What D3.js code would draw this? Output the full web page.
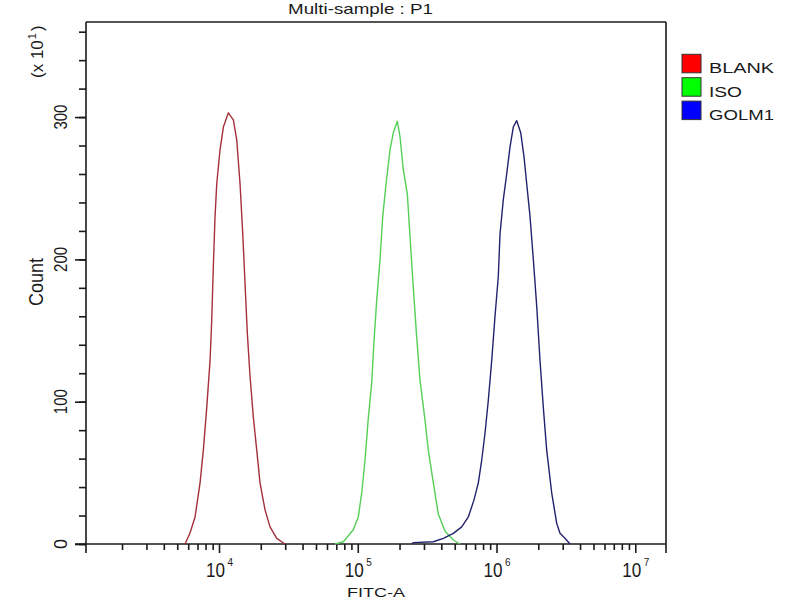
<!DOCTYPE html>
<html>
<head>
<meta charset="utf-8">
<script src="https://cdn.jsdelivr.net/npm/d3@7"></script>
<style>
  html, body { margin: 0; padding: 0; background: #fff; }
  svg { display: block; font-family: "Liberation Sans", Arial, sans-serif; }
</style>
</head>
<body>
<svg id="chart" width="800" height="600"></svg>
<script>
// ---- data ----
const seriesNames = ["BLANK", "ISO", "GOLM1"];

const blankX = [5690,6180,6720,7300,7710,8160,8620,8860,9100,9360,9630,10170,10750,11680,12690,13420,14180,14830,15400,16000,16730,17680,18700,19750,21460,23320,26060,29910];
const blankY = [0,7.7,19,43,66,96,129,157,195,230,253,277,293,303,298,284,253,218,183,148,118,89,66,43,24,12,4,0];

const isoX = [68570,78700,92900,100900,106800,112800,119200,126000,131000,136900,144700,151300,159800,170800,180400,192800,201700,213000,227600,238000,251400,266000,281000,305200,322400,350400,380600,425500,488400,545700];
const isoY = [0,1.6,10,19,36,59,89,113,143,171,200,230,253,277,289,297,286,263,246,216,180,145,115,87,66,43,21,9,2.8,0];

const golmX = [244800,251400,350400,413600,488400,561400,626200,688200,739200,782300,826300,872800,923400,975200,1030000,1060000,1119000,1184000,1251000,1321000,1398000,1494000,1578000,1651000,1744000,1842000,1949000,2058000,2174000,2299000,2498000,2715000,2868000,3116000,3385000];
const golmY = [0,1,1.6,4,7.5,12,19,31,43,59,78,101,129,160,188,218,242,260,279,293,297.5,289,272,253,230,200,167,129,96,66,36,14.5,7.5,4,0];

const xMajorTicks = [1e4, 1e5, 1e6, 1e7];
const xMajorExp = ["4", "5", "6", "7"];
const yMajorTicks = [0, 100, 200, 300];
const yMinorTicks = [0,20,40,60,80,100,120,140,160,180,200,220,240,260,280,300,320,340,360];
const xDomain = [1100, 16650000];
const yDomain = [0, 366.8];

const titleText = "Multi-sample : P1";
const xLabel = "FITC-A";
const yLabel = "Count";

// ---- styles ----
const lineColors = ["#a3303c", "#55cf55", "#22226f"];
const legendColors = ["#ff0000", "#00ff00", "#0000ff"];
const ink = "#1a1a1a";

const svg = d3.select("#chart");
const L = 86, R = 666, T = 22, B = 544;

const x = d3.scaleLog().domain(xDomain).range([L, R]);
const y = d3.scaleLinear().domain(yDomain).range([B, T]);

// minor x ticks: 2..9 x each decade inside domain
const xMinor = [];
[1e3, 1e4, 1e5, 1e6, 1e7].forEach(d => {
  for (let k = 2; k <= 9; k++) {
    const v = d * k;
    if (v > xDomain[0] && v < xDomain[1]) xMinor.push(v);
  }
});

// ---- axes ----
const gxMinor = svg.append("g").attr("transform", `translate(0,${B})`)
  .call(d3.axisBottom(x).tickValues(xMinor).tickSize(6).tickSizeOuter(0).tickFormat(""));
const gxMajor = svg.append("g").attr("transform", `translate(0,${B})`)
  .call(d3.axisBottom(x).tickValues(xMajorTicks).tickSize(9).tickSizeOuter(0).tickFormat(""));
const gyMinor = svg.append("g").attr("transform", `translate(${L},0)`)
  .call(d3.axisLeft(y).tickValues(yMinorTicks).tickSize(7).tickSizeOuter(0).tickFormat(""));
const gyMajor = svg.append("g").attr("transform", `translate(${L},0)`)
  .call(d3.axisLeft(y).tickValues(yMajorTicks).tickSize(11).tickSizeOuter(0).tickFormat(""));

[gxMinor, gxMajor, gyMinor, gyMajor].forEach(g => {
  g.select(".domain").remove();
  g.selectAll(".tick line").attr("stroke", ink).attr("stroke-width", 1.6);
});

// frame lines
const frame = svg.append("g").attr("stroke", ink).attr("stroke-width", 1.6).attr("fill", "none");
frame.append("line").attr("x1", L - 11).attr("x2", R).attr("y1", B).attr("y2", B);
frame.append("line").attr("x1", L).attr("x2", R).attr("y1", T).attr("y2", T);
frame.append("line").attr("x1", L).attr("x2", L).attr("y1", T).attr("y2", B + 9);
frame.append("line").attr("x1", R).attr("x2", R).attr("y1", T).attr("y2", B + 9);

// ---- curves ----
const lineGen = d3.line().x(d => x(d[0])).y(d => y(d[1]));
const allSeries = [
  d3.zip(blankX, blankY),
  d3.zip(isoX, isoY),
  d3.zip(golmX, golmY)
];
svg.append("g").selectAll("path").data(allSeries).join("path")
  .attr("d", lineGen)
  .attr("fill", "none")
  .attr("stroke", (d, i) => lineColors[i])
  .attr("stroke-width", 1.4)
  .attr("stroke-linejoin", "round");

// ---- x tick labels ----
const xl = svg.append("g").attr("fill", ink);
xMajorTicks.forEach((v, i) => {
  const px = x(v);
  xl.append("text").attr("x", px - 13).attr("y", 577)
    .attr("font-size", 20).attr("textLength", 19).attr("lengthAdjust", "spacingAndGlyphs")
    .text("10");
  xl.append("text").attr("x", px + 8.5).attr("y", 566)
    .attr("font-size", 10).text(xMajorExp[i]);
});

// x axis title
svg.append("text").attr("x", 347).attr("y", 597).attr("fill", ink)
  .attr("font-size", 13).attr("textLength", 58).attr("lengthAdjust", "spacingAndGlyphs")
  .text(xLabel);

// ---- y tick labels (rotated) ----
yMajorTicks.forEach(v => {
  const t = String(v);
  const len = t.length === 1 ? 10 : 25;
  svg.append("text")
    .attr("transform", `translate(67,${y(v)}) rotate(-90)`)
    .attr("text-anchor", "middle").attr("fill", ink)
    .attr("font-size", 18).attr("textLength", len).attr("lengthAdjust", "spacingAndGlyphs")
    .text(t);
});

// y axis title
svg.append("text")
  .attr("transform", `translate(43,282) rotate(-90)`)
  .attr("text-anchor", "middle").attr("fill", ink)
  .attr("font-size", 20).attr("textLength", 48).attr("lengthAdjust", "spacingAndGlyphs")
  .text(yLabel);

// multiplier "(x 10^1)"
const mult = svg.append("text")
  .attr("transform", `translate(43,78) rotate(-90)`)
  .attr("fill", ink).attr("font-size", 17);
mult.append("tspan").text("(x 10");
mult.append("tspan").attr("font-size", 11).attr("dy", -7).attr("dx", 1).text("1");
mult.append("tspan").attr("dy", 7).attr("dx", 2).text(")");

// title
svg.append("text").attr("x", 288).attr("y", 13.5).attr("fill", ink)
  .attr("font-size", 15).attr("textLength", 145).attr("lengthAdjust", "spacingAndGlyphs")
  .text(titleText);

// ---- legend ----
const lg = svg.append("g");
seriesNames.forEach((name, i) => {
  const top = 54.3 + i * 23.4;
  lg.append("rect").attr("x", 682).attr("y", top).attr("width", 19).attr("height", 18.5)
    .attr("fill", legendColors[i]).attr("stroke", "#333").attr("stroke-width", 1);
  lg.append("text").attr("x", 709).attr("y", top + 19).attr("fill", ink)
    .attr("font-size", 14).attr("textLength", name === "ISO" ? 33 : 65)
    .attr("lengthAdjust", "spacingAndGlyphs").text(name);
});
</script>
</body>
</html>
